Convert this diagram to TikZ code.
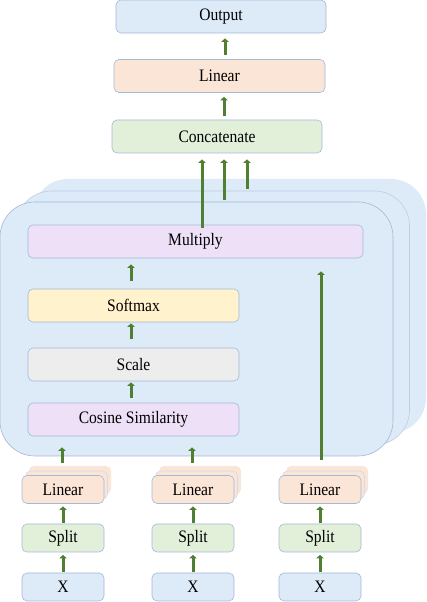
\documentclass[tikz,border=0pt]{standalone}
\usepackage{fontspec}
\setmainfont{Liberation Serif}[FakeStretch=0.89]
\usetikzlibrary{positioning,arrows.meta}

\definecolor{boxblue}{RGB}{221,234,247}
\definecolor{edgeblue}{RGB}{164,184,216}
\definecolor{peach}{RGB}{251,229,214}
\definecolor{mint}{RGB}{226,240,217}
\definecolor{butter}{RGB}{255,242,204}
\definecolor{silver}{RGB}{237,237,237}
\definecolor{lilac}{RGB}{238,225,247}
\definecolor{leaf}{RGB}{80,127,50}

\begin{document}
\begin{tikzpicture}[x=1pt,y=1pt
% Box styles
		, box/.style={rectangle
							    , rounded corners=5pt
							    , draw=edgeblue, line width=0.6pt
							    , minimum height=33pt
							    , inner sep=0pt
							    , font=\fontsize{17.5}{20}\selectfont}
		, wide/.style={box
							    , minimum width=211pt}
		, cell/.style={box
							    , minimum width=82pt
							    , minimum height=28pt}
		, layer/.style={rectangle
							    , rounded corners=35pt
							    , fill=boxblue
							    , minimum width=393pt
							    , minimum height=254pt
							    , inner sep=0pt}
% Arrow style
		, flow/.style={draw=leaf
							    , line width=3pt
							    , -{Triangle[width=7pt,length=3.5pt]}
							    , shorten <=1pt
							    , shorten >=2.5pt}
	]
	\useasboundingbox (0,0) rectangle (426,602);
%% Head stack
	\node [layer] (l3) at (229.5,296) {};
	\node [layer, draw=edgeblue!70, line width=0.6pt] (l2) at (213,284) {};
	\node [layer, draw=edgeblue, line width=0.6pt] (l1) at (196.5,273) {};
	\node [box, fill=lilac, minimum width=335pt] (mul) at (195.5,360.5) {Multiply};
	\node [wide, fill=butter] (soft) at (133.5,296.5) {Softmax};
	\node [wide, fill=silver] (scl) at (133.5,237.5) {Scale};
	\node [wide, fill=lilac] (cos) at (133.5,182.5) {Cosine Similarity};
%% Top
	\node [wide, fill=mint, minimum width=210pt] (cat) at (217,465.5) {Concatenate};
	\node [wide, fill=peach] (lin) at (219.5,526) {Linear};
	\node [wide, fill=boxblue, minimum width=210pt] (out) at (221,585.5) {Output};
%% Inputs
	\node [cell, fill=peach, draw=none] at (70,122) {};
	\node [cell, fill=peach, draw=edgeblue!50] at (66.5,117) {};
	\node [cell, fill=peach] (lin1) at (63,112.5) {Linear};
	\node [cell, fill=mint] (spl1) at (63,64) {Split};
	\node [cell, fill=boxblue] (x1) at (63,15) {X};
	\node [cell, fill=peach, draw=none] at (200,122) {};
	\node [cell, fill=peach, draw=edgeblue!50] at (196.5,117) {};
	\node [cell, fill=peach] (lin2) at (193,112.5) {Linear};
	\node [cell, fill=mint] (spl2) at (193,64) {Split};
	\node [cell, fill=boxblue] (x2) at (193,15) {X};
	\node [cell, fill=peach, draw=none] at (327,122) {};
	\node [cell, fill=peach, draw=edgeblue!50] at (323.5,117) {};
	\node [cell, fill=peach] (lin3) at (320,112.5) {Linear};
	\node [cell, fill=mint] (spl3) at (320,64) {Split};
	\node [cell, fill=boxblue] (x3) at (320,15) {X};
%% Arrows
	\draw [flow] (x1) -- (spl1);
	\draw [flow] (x2) -- (spl2);
	\draw [flow] (x3) -- (spl3);
	\draw [flow] (spl1) -- (lin1);
	\draw [flow] (spl2) -- (lin2);
	\draw [flow] (spl3) -- (lin3);
	\draw [flow, shorten <=12.5pt, shorten >=11pt] ([xshift=-1pt]lin1.north) -- ([xshift=-1pt]lin1.north |- cos.south);
	\draw [flow, shorten <=12.5pt, shorten >=11pt] ([xshift=-1pt]lin2.north) -- ([xshift=-1pt]lin2.north |- cos.south);
	\draw [flow, shorten <=15.5pt, shorten >=13pt] ([xshift=1pt]lin3.north) -- ([xshift=1pt]lin3.north |- mul.south);
	\draw [flow, shorten <=5pt, shorten >=1pt] ([xshift=-2.5pt]cos.north) -- ([xshift=-2.5pt]scl.south);
	\draw [flow, shorten <=9pt, shorten >=1pt] ([xshift=-2.5pt]scl.north) -- ([xshift=-2.5pt]soft.south);
	\draw [flow, shorten <=8pt, shorten >=6pt] ([xshift=-2.5pt]soft.north) -- ([xshift=-2.5pt]soft.north |- mul.south);
	\coordinate (head2) at (224,402);
	\coordinate (head3) at (247,413);
	\draw [flow, shorten <=-3pt, shorten >=6pt] ([xshift=-15pt]cat.south |- mul.north) -- ([xshift=-15pt]cat.south);
	\draw [flow, shorten <=0pt, shorten >=6pt] (head2) -- (head2 |- cat.south);
	\draw [flow, shorten <=0pt, shorten >=6pt] (head3) -- (head3 |- cat.south);
	\draw [flow, shorten <=4pt, shorten >=4pt] ([xshift=7pt]cat.north) -- ([xshift=7pt]cat.north |- lin.south);
	\draw [flow, shorten <=4pt, shorten >=5pt] ([xshift=5.5pt]lin.north) -- ([xshift=5.5pt]lin.north |- out.south);
\end{tikzpicture}
\end{document}
